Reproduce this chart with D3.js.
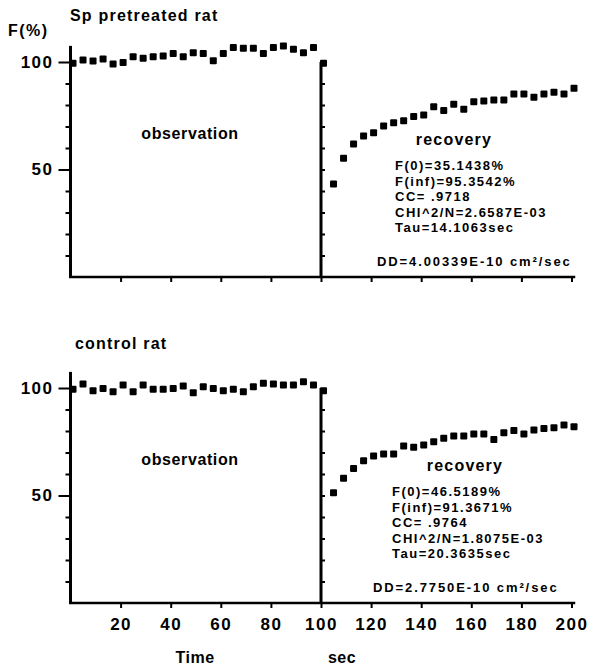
<!DOCTYPE html>
<html>
<head>
<meta charset="utf-8">
<script src="https://cdn.jsdelivr.net/npm/d3@7/dist/d3.min.js"></script>
<style>
  body { margin: 0; background: #fff; }
  svg { font-family: "Liberation Sans", Arial, sans-serif; }
  .axis path, .axis line { stroke: #000; }
  .axis text { font-size: 17px; font-weight: bold; fill: #000; letter-spacing: 1.5px; }
</style>
</head>
<body>
<div id="chart"></div>
<script>
// sample times (sec)
const obsTime = [1, 5, 9, 13, 17, 21, 25, 29, 33, 37, 41, 45, 49, 53, 57, 61, 65, 69, 73, 77, 81, 85, 89, 93, 97];
const recTime = [101, 105, 109, 113, 117, 121, 125, 129, 133, 137, 141, 145, 149, 153, 157, 161, 165, 169, 173, 177, 181, 185, 189, 193, 197, 201];

// F(%)
const spObs = [99.4, 100.9, 100.5, 101.4, 99.1, 99.8, 102.5, 101.7, 102.5, 102.8, 104.0, 102.5, 104.3, 104.0, 100.6, 104.0, 106.8, 106.4, 106.4, 104.0, 106.8, 107.4, 105.9, 104.3, 106.8];
const spRec = [99.4, 43.3, 55.2, 61.9, 65.6, 67.1, 70.2, 71.8, 72.7, 74.6, 75.3, 79.2, 77.4, 80.3, 78.0, 81.5, 81.9, 82.3, 82.3, 85.1, 85.1, 83.6, 85.1, 85.9, 85.1, 87.8];
const ctlObs = [99.4, 101.9, 98.7, 99.8, 98.3, 101.4, 98.3, 101.4, 99.4, 99.4, 99.8, 100.9, 97.8, 100.6, 99.8, 98.7, 99.4, 98.3, 100.6, 102.2, 101.9, 101.4, 101.4, 102.9, 101.4];
const ctlRec = [98.7, 51.3, 58.0, 62.6, 66.2, 68.4, 69.3, 69.3, 73.0, 72.4, 73.5, 75.0, 76.6, 77.7, 77.7, 78.6, 78.6, 76.1, 79.2, 80.2, 78.6, 80.5, 81.2, 81.5, 82.8, 82.0];

const spStats = ["F(0)=35.1438%", "F(inf)=95.3542%", "CC= .9718", "CHI^2/N=2.6587E-03", "Tau=14.1063sec"];
const ctlStats = ["F(0)=46.5189%", "F(inf)=91.3671%", "CC= .9764", "CHI^2/N=1.8075E-03", "Tau=20.3635sec"];
const spDD = "DD=4.00339E-10 cm²/sec";
const ctlDD = "DD=2.7750E-10 cm²/sec";

const xTicks = [20, 40, 60, 80, 100, 120, 140, 160, 180, 200];
const yMajor = [50, 100];
const yMinor = [10, 20, 30, 40, 60, 70, 80, 90];
const rightTicks = [10, 20, 30, 40, 50, 60, 70, 80, 90];

const W = 589, H = 669;
const svg = d3.select("#chart").append("svg").attr("width", W).attr("height", H);

const x = d3.scaleLinear().domain([0, 200]).range([70.5, 571.5]);

const panels = [
  {title: "Sp pretreated rat", titleX: 70, titleY: 21, y0: 277, obs: spObs, rec: spRec,
   stats: spStats, dd: spDD, statX: 395, ddX: 377, recX: 454, labels: false},
  {title: "control rat", titleX: 75, titleY: 349, y0: 603, obs: ctlObs, rec: ctlRec,
   stats: ctlStats, dd: ctlDD, statX: 392, ddX: 373, recX: 465, labels: true}
];

svg.append("text").attr("x", 8).attr("y", 36)
  .style("font-size", "16px").style("font-weight", "bold").style("letter-spacing", "1.5px")
  .text("F(%)");

panels.forEach(p => {
  const y = d3.scaleLinear().domain([0, 107.5]).range([p.y0, p.y0 - 2.15 * 107.5]);
  const g = svg.append("g");

  g.append("text").attr("x", p.titleX).attr("y", p.titleY)
    .style("font-size", "16px").style("font-weight", "bold").style("letter-spacing", "1.2px")
    .text(p.title);

  // left axis: major ticks with labels, minor without
  g.append("g").attr("class", "axis")
    .attr("transform", `translate(${x(0)},0)`)
    .call(d3.axisLeft(y).tickValues(yMajor).tickSize(12).tickPadding(5))
    .call(a => a.select(".domain").remove())
    .call(a => a.selectAll("line").attr("stroke-width", 2));
  g.append("g").attr("class", "axis")
    .attr("transform", `translate(${x(0)},0)`)
    .call(d3.axisLeft(y).tickValues(yMinor).tickSize(5).tickFormat(""))
    .call(a => a.select(".domain").remove())
    .call(a => a.selectAll("line").attr("stroke-width", 2));

  // divider at 100 sec with ticks to the right
  g.append("g").attr("class", "axis")
    .attr("transform", `translate(${x(100)},0)`)
    .call(d3.axisRight(y).tickValues(rightTicks).tickSize(4).tickFormat(""))
    .call(a => a.select(".domain").remove())
    .call(a => a.selectAll("line").attr("stroke-width", 2));

  // bottom axis
  g.append("g").attr("class", "axis")
    .attr("transform", `translate(0,${p.y0})`)
    .call(d3.axisBottom(x).tickValues(xTicks).tickSize(5).tickPadding(10)
      .tickFormat(p.labels ? d3.format("d") : ""))
    .call(a => a.select(".domain").remove())
    .call(a => a.selectAll("line").attr("stroke-width", 2));

  // axis lines
  g.append("line").attr("x1", x(0)).attr("x2", x(0))
    .attr("y1", y(0) + 1).attr("y2", y(107.5))
    .attr("stroke", "#000").attr("stroke-width", 3);
  g.append("line").attr("x1", x(100)).attr("x2", x(100))
    .attr("y1", y(0) + 1).attr("y2", y(100))
    .attr("stroke", "#000").attr("stroke-width", 3);
  g.append("line").attr("x1", x(0) - 1.5).attr("x2", x(201.5))
    .attr("y1", y(0)).attr("y2", y(0))
    .attr("stroke", "#000").attr("stroke-width", 2.5);

  // points
  const pts = obsTime.map((t, i) => [t, p.obs[i]])
    .concat(recTime.map((t, i) => [t, p.rec[i]]));
  g.selectAll("rect.pt").data(pts).join("rect")
    .attr("class", "pt")
    .attr("x", d => x(d[0]) - 3.5).attr("y", d => y(d[1]) - 3.5)
    .attr("width", 7).attr("height", 7).attr("rx", 1)
    .attr("fill", "#000");

  g.append("text").attr("x", 190).attr("y", p.y0 - 138)
    .attr("text-anchor", "middle")
    .style("font-size", "16px").style("font-weight", "bold").style("letter-spacing", "0.6px")
    .text("observation");
  g.append("text").attr("x", p.recX).attr("y", p.y0 - 132)
    .attr("text-anchor", "middle")
    .style("font-size", "16px").style("font-weight", "bold").style("letter-spacing", "1.2px")
    .text("recovery");

  g.selectAll("text.stat").data(p.stats).join("text")
    .attr("class", "stat")
    .attr("x", p.statX).attr("y", (d, i) => p.y0 - 107 + i * 15.6)
    .style("font-size", "13px").style("font-weight", "bold").style("letter-spacing", "1.5px")
    .text(d => d);
  g.append("text").attr("x", p.ddX).attr("y", p.y0 - 11.5)
    .style("font-size", "13px").style("font-weight", "bold").style("letter-spacing", "1.9px")
    .text(p.dd);
});

svg.append("text").attr("x", 195).attr("y", 663).attr("text-anchor", "middle")
  .style("font-size", "16px").style("font-weight", "bold").style("letter-spacing", "0.5px")
  .text("Time");
svg.append("text").attr("x", 342).attr("y", 663).attr("text-anchor", "middle")
  .style("font-size", "16px").style("font-weight", "bold").style("letter-spacing", "0.5px")
  .text("sec");
</script>
</body>
</html>
